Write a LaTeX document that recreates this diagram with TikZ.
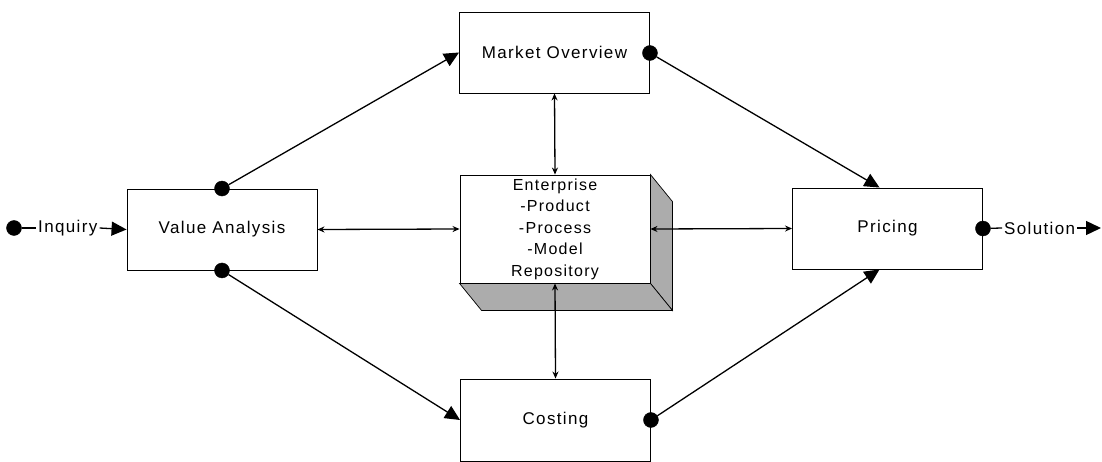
\documentclass[tikz,border=0pt]{standalone}
\usepackage{fontspec}
\setmainfont[LetterSpace=8]{Liberation Sans}
\usetikzlibrary{arrows.meta}
\tikzset{
  procbox/.style={draw=black,line width=0.9pt,fill=white,minimum width=190pt,minimum height=81pt,inner sep=0pt,font=\fontsize{17}{21.5}\selectfont},
  blob/.style={circle,fill=black,draw=black,minimum size=15pt,inner sep=0pt},
  conn/.style={draw=black,line width=1.3pt},
  bigtip/.style={-{Triangle[length=15pt,width=14pt]}},
  dbl/.style={{Stealth[length=7pt,width=6pt]}-{Stealth[length=7pt,width=6pt]}},
  face/.style={draw=black,line width=0.7pt,fill=gray!65},
  lbl/.style={font=\fontsize{17}{21}\selectfont,inner sep=2pt,fill=white}
}
\begin{document}
\begin{tikzpicture}[x=1pt,y=-1pt]
\useasboundingbox (0,0) rectangle (1102,462);
\fill[white] (0,0) rectangle (1102,462);
% boxes
\node[procbox] (va) at (222,229.5) {Value Analysis};
\node[procbox] (mo) at (554.5,52.5) {Market Overview};
\node[procbox,minimum height=82pt] (co) at (555.5,420) {Costing};
\node[procbox] (pr) at (887.5,228.5) {Pricing};
\node[procbox,minimum height=108pt,align=center,font=\fontsize{16}{21.5}\selectfont] (en) at (555,229) {Enterprise\\-Product\\-Process\\-Model\\Repository};
% 3D faces of repository
\path[face] (en.north east) -- ([shift={(22,27)}]en.north east) -- ([shift={(22,27)}]en.south east) -- (en.south east) -- cycle;
\path[face] (en.south west) -- ([shift={(22,27)}]en.south west) -- ([shift={(22,27)}]en.south east) -- (en.south east) -- cycle;
% dots
\node[blob] (inq) at (14,228) {};
\node[blob] (vat) at (va.north) {};
\node[blob] (vab) at (va.south) {};
\node[blob] (mod) at ([yshift=-0.5pt]mo.east) {};
\node[blob] (cod) at (co.east) {};
\node[blob] (prd) at (pr.east) {};
% labels
\node[lbl,anchor=west] (inqt) at (36,228) {Inquiry};
\node[lbl,anchor=west] (solt) at (1002,228) {Solution};
\coordinate (solend) at (1101,228);
% connectors
\draw[conn] (inq) -- (inqt.west);
\draw[conn,bigtip] (inqt.east) -- (va.west);
\draw[conn] (prd) -- (solt.west);
\draw[conn,bigtip] (solt.east) -- (solend);
\draw[conn,bigtip] (vat) -- (mo.west);
\draw[conn,bigtip] (vab) -- (co.west);
\draw[conn,bigtip] (mod) -- ([xshift=-8pt]pr.north);
\draw[conn,bigtip] (cod) -- ([xshift=-8pt]pr.south);
\draw[conn,dbl] (va.east) -- (en.west);
\draw[conn,dbl] (en.east) -- (pr.west);
\draw[conn,dbl] (mo.south) -- (en.north);
\draw[conn,dbl] (en.south) -- (co.north);
\end{tikzpicture}
\end{document}
